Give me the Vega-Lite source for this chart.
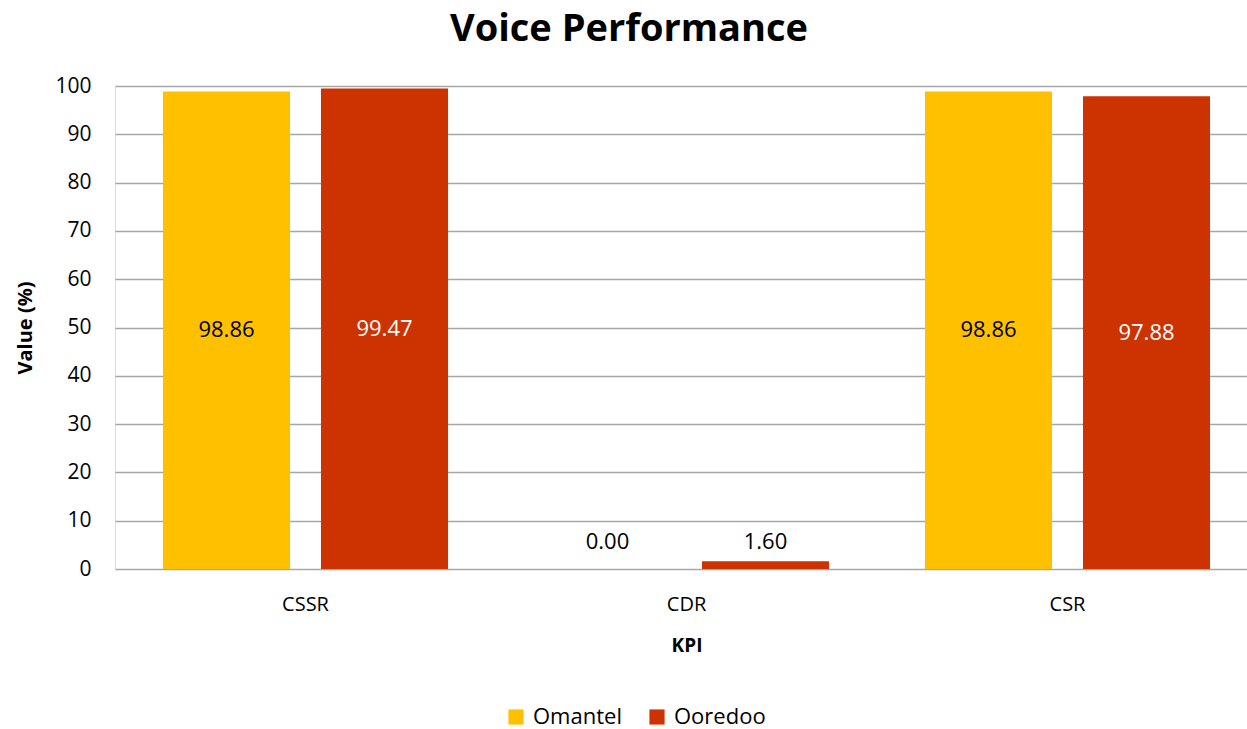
{
  "$schema": "https://vega.github.io/schema/vega-lite/v6.json",
  "autosize": {"type": "none"},
  "width": 1132,
  "height": 483,
  "padding": {"left": 115, "top": 86, "right": 0, "bottom": 160},
  "background": "white",
  "title": {
    "text": "Voice Performance",
    "font": "Open Sans",
    "fontSize": 38,
    "fontWeight": "bold",
    "color": "black",
    "anchor": "middle",
    "dx": -52,
    "offset": 26
  },
  "data": {
    "values": [
      {"KPI": "CSSR", "Operator": "Omantel", "Value": 98.86},
      {"KPI": "CSSR", "Operator": "Ooredoo", "Value": 99.47},
      {"KPI": "CDR", "Operator": "Omantel", "Value": 0.0},
      {"KPI": "CDR", "Operator": "Ooredoo", "Value": 1.6},
      {"KPI": "CSR", "Operator": "Omantel", "Value": 98.86},
      {"KPI": "CSR", "Operator": "Ooredoo", "Value": 97.88}
    ]
  },
  "encoding": {
    "x": {
      "field": "KPI",
      "type": "nominal",
      "sort": ["CSSR", "CDR", "CSR"],
      "scale": {"range": [0, 1143], "paddingInner": 0, "paddingOuter": 0},
      "axis": {
        "title": "KPI",
        "titleFont": "Open Sans",
        "titleFontSize": 19,
        "titleFontWeight": "bold",
        "titleColor": "black",
        "titlePadding": 22,
        "labelFont": "Open Sans",
        "labelFontSize": 20,
        "labelColor": "black",
        "labelPadding": 25,
        "labelAngle": 0,
        "ticks": false,
        "domain": false,
        "grid": false
      }
    },
    "xOffset": {
      "field": "Operator",
      "type": "nominal",
      "scale": {"paddingInner": 0.196, "paddingOuter": 0.3035}
    }
  },
  "layer": [
    {
      "mark": {"type": "bar"},
      "encoding": {
        "y": {
          "field": "Value",
          "type": "quantitative",
          "scale": {"domain": [0, 100]},
          "axis": {
            "title": "Value (%)",
            "titleFont": "Open Sans",
            "titleFontSize": 20,
            "titleFontWeight": "bold",
            "titleColor": "black",
            "titlePadding": 19,
            "labelFont": "Open Sans",
            "labelFontSize": 21,
            "labelColor": "black",
            "labelPadding": 24,
            "values": [0, 10, 20, 30, 40, 50, 60, 70, 80, 90, 100],
            "ticks": false,
            "domain": false,
            "grid": true,
            "gridColor": "#A6A6A6",
            "gridWidth": 1.5
          }
        },
        "color": {
          "field": "Operator",
          "type": "nominal",
          "scale": {"domain": ["Omantel", "Ooredoo"], "range": ["#FFC000", "#CC3300"]},
          "legend": {
            "title": null,
            "orient": "none",
            "direction": "horizontal",
            "legendX": 390,
            "legendY": 620,
            "symbolType": "square",
            "symbolSize": 230,
            "symbolStrokeWidth": 0,
            "labelFont": "Open Sans",
            "labelFontSize": 22,
            "labelColor": "black",
            "labelOffset": 6,
            "columnPadding": 24
          }
        }
      }
    },
    {
      "transform": [
        {"filter": "datum.Value > 10"},
        {"calculate": "datum.Value / 2", "as": "mid"}
      ],
      "mark": {"type": "text", "font": "Open Sans", "fontSize": 22, "baseline": "middle", "align": "center"},
      "encoding": {
        "y": {"field": "mid", "type": "quantitative"},
        "text": {"field": "Value", "type": "quantitative", "format": ".2f"},
        "color": {
          "condition": {"test": "datum.Operator === 'Ooredoo'", "value": "white"},
          "value": "black"
        }
      }
    },
    {
      "transform": [{"filter": "datum.Value <= 10"}],
      "mark": {"type": "text", "font": "Open Sans", "fontSize": 22, "baseline": "middle", "align": "center", "color": "black"},
      "encoding": {
        "y": {"datum": 5.6, "type": "quantitative"},
        "text": {"field": "Value", "type": "quantitative", "format": ".2f"}
      }
    }
  ]
}
